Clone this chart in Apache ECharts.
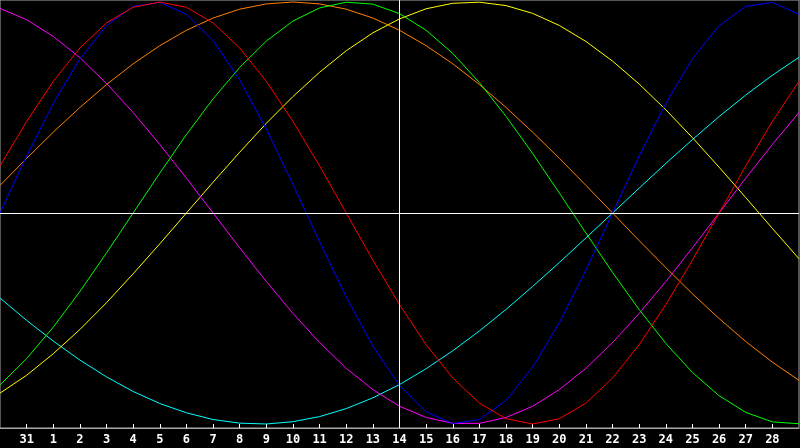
<!DOCTYPE html>
<html>
<head>
<meta charset="utf-8">
<script src="https://cdn.jsdelivr.net/npm/echarts@6/dist/echarts.min.js"></script>
<style>
  html, body { margin: 0; padding: 0; background: #000; }
  #chart { width: 800px; height: 448px; }
</style>
</head>
<body>
<div id="chart"></div>
<script>
// days shown along the bottom (first and last are off the labelled range)
var days = ['30', '31', '1', '2', '3', '4', '5', '6', '7', '8', '9', '10', '11', '12', '13', '14',
  '15', '16', '17', '18', '19', '20', '21', '22', '23', '24', '25', '26', '27', '28', '29'];
var today = '14';

var physical = [0, 0.27, 0.52, 0.73, 0.888, 0.979, 0.998, 0.942, 0.817, 0.631, 0.398, 0.136, -0.136, -0.398,
  -0.631, -0.817, -0.942, -0.998, -0.979, -0.888, -0.731, -0.52, -0.27, 0, 0.27, 0.52, 0.731, 0.888, 0.979, 0.998, 0.942];
var emotional = [0.223, 0.434, 0.624, 0.782, 0.901, 0.975, 1, 0.975, 0.901, 0.782, 0.624, 0.434, 0.223, 0,
  -0.223, -0.434, -0.624, -0.782, -0.901, -0.975, -1, -0.975, -0.901, -0.782, -0.624, -0.434, -0.223, 0, 0.223, 0.434, 0.624];
var intellectual = [-0.815, -0.69, -0.541, -0.372, -0.189, 0, 0.189, 0.372, 0.541, 0.69, 0.815, 0.91, 0.972, 0.999,
  0.99, 0.945, 0.866, 0.756, 0.618, 0.458, 0.282, 0.095, -0.095, -0.282, -0.458, -0.618, -0.756, -0.866, -0.945, -0.99, -0.999];
var intuitive = [0.969, 0.916, 0.837, 0.736, 0.614, 0.476, 0.325, 0.165, 0, -0.165, -0.325, -0.476, -0.614, -0.736,
  -0.837, -0.916, -0.969, -0.997, -0.997, -0.969, -0.916, -0.837, -0.736, -0.614, -0.476, -0.325, -0.165, 0, 0.165, 0.325, 0.476];
var aesthetic = [-0.854, -0.769, -0.667, -0.552, -0.425, -0.288, -0.146, 0, 0.146, 0.288, 0.425, 0.552, 0.667, 0.769,
  0.854, 0.92, 0.968, 0.994, 0.999, 0.983, 0.946, 0.889, 0.813, 0.72, 0.611, 0.489, 0.357, 0.217, 0.073, -0.073, -0.217];
var awareness = [0.131, 0.259, 0.383, 0.5, 0.609, 0.707, 0.793, 0.866, 0.924, 0.966, 0.991, 1, 0.991, 0.966,
  0.924, 0.866, 0.793, 0.707, 0.609, 0.5, 0.383, 0.259, 0.131, 0, -0.131, -0.259, -0.383, -0.5, -0.609, -0.707, -0.793];
var spiritual = [-0.403, -0.509, -0.607, -0.697, -0.777, -0.846, -0.903, -0.947, -0.979, -0.996, -1, -0.989, -0.965, -0.927,
  -0.876, -0.813, -0.738, -0.653, -0.559, -0.457, -0.348, -0.235, -0.118, 0, 0.118, 0.235, 0.348, 0.457, 0.559, 0.653, 0.738];

var chart = echarts.init(document.getElementById('chart'));

function line(name, data, color) {
  return {
    name: name,
    type: 'line',
    data: data,
    showSymbol: false,
    symbol: 'none',
    lineStyle: { color: color, width: 1 },
    itemStyle: { color: color },
    z: 3
  };
}

var inner = function (i) { return i > 0 && i < days.length - 1; };

var option = {
  backgroundColor: '#000',
  animation: false,
  grid: {
    left: 0, right: 1, top: 0, bottom: 20,
    show: true,
    borderColor: '#a8a8a8',
    borderWidth: 1,
    backgroundColor: '#000'
  },
  xAxis: {
    type: 'category',
    data: days,
    boundaryGap: false,
    axisLine: { onZero: false, lineStyle: { color: '#a8a8a8', width: 1 } },
    axisTick: { inside: true, length: 4, interval: inner, lineStyle: { color: '#fff' } },
    axisLabel: {
      interval: inner,
      color: '#fff',
      fontFamily: 'DejaVu Sans Mono',
      fontWeight: 'bold',
      fontSize: 12,
      margin: 6
    },
    splitLine: { show: false }
  },
  yAxis: {
    type: 'value',
    min: -1.019,
    max: 1.0095,
    show: false,
    splitLine: { show: false }
  },
  series: [
    line('spiritual', spiritual, '#00ffff'),
    line('aesthetic', aesthetic, '#ffff00'),
    line('awareness', awareness, '#ff8000'),
    line('intuitive', intuitive, '#ff00ff'),
    line('intellectual', intellectual, '#00ff00'),
    line('physical', physical, '#0000ff'),
    Object.assign(line('emotional', emotional, '#ff0000'), {
      markLine: {
        silent: true,
        symbol: 'none',
        label: { show: false },
        lineStyle: { color: '#fff', width: 1, type: 'solid' },
        data: [{ xAxis: today }, { yAxis: 0 }]
      }
    })
  ]
};

chart.setOption(option);
</script>
</body>
</html>
